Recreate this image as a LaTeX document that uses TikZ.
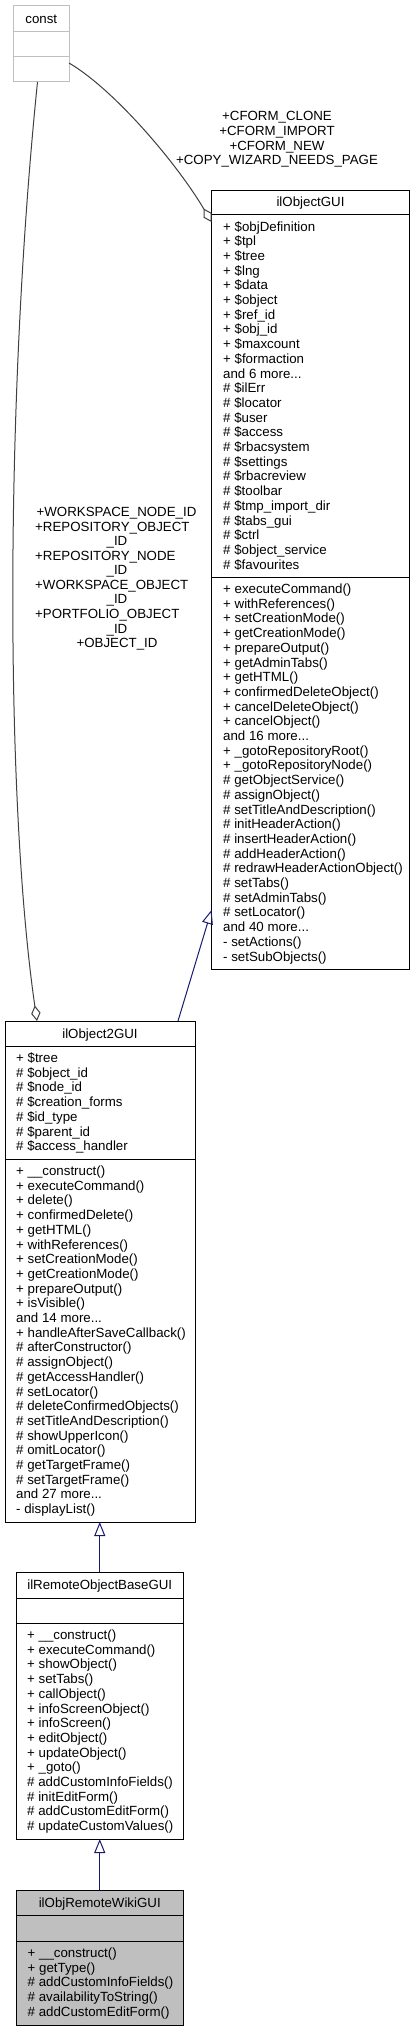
\documentclass[tikz,border=0pt]{standalone}
\usepackage{fontspec}
\setmainfont{Liberation Sans}
\usetikzlibrary{arrows.meta,calc}
\definecolor{edgeblue}{RGB}{25,25,112}
\definecolor{constgray}{RGB}{191,191,191}
\definecolor{darkedge}{RGB}{64,64,64}
\newcommand\threedots{.\kern0pt.\kern0pt.}
\newcommand\classrows[4]{%
  \foreach \txt [count=\k from 0] in {#4} {
    \node[rowtxt, anchor=base west] (#1-\k) at ({#2},{#3+4.5+\k*14.7}) {\txt};
  }%
}
\begin{document}
\begin{tikzpicture}[x=1pt,y=-1pt,
  classbox/.style={draw=black, line width=1pt, fill=white, inner sep=0pt, outer sep=0pt, anchor=north west},
  sepline/.style={draw=black, line width=1pt},
  rowtxt/.style={font=\fontsize{13.3}{15}\selectfont, inner sep=0pt},
  inherit/.style={draw=edgeblue, line width=1pt, -{Triangle[open, length=14pt, width=11pt]}},
  aggr/.style={draw=darkedge, line width=1pt, -{Diamond[open, length=15.6pt, width=9.4pt]}}]
\fill[white] (0,0) rectangle (415,2031);
\useasboundingbox (0,0) rectangle (415,2031);

% const
\node[classbox, draw=constgray, minimum width=55.5pt, minimum height=76pt] (const) at (13.5,6) {};
\draw[sepline, draw=constgray] ($(const.north west)+(0,25.5)$) -- ($(const.north east)+(0,25.5)$);
\draw[sepline, draw=constgray] ($(const.north west)+(0,51)$) -- ($(const.north east)+(0,51)$);
\node[rowtxt, anchor=base] (const-title) at (41.25,23.3) {const};

% ilObjectGUI
\node[classbox, minimum width=198pt, minimum height=779pt] (objgui) at (211.5,190) {};
\draw[sepline] ($(objgui.north west)+(0,24.5)$) -- ($(objgui.north east)+(0,24.5)$);
\draw[sepline] ($(objgui.north west)+(0,387)$) -- ($(objgui.north east)+(0,387)$);
\node[rowtxt, anchor=base] (objgui-title) at (310.5,206.5) {ilObjectGUI};
\classrows{objgui-a}{223}{226.5}{+ \$objDefinition,+ \$tpl,+ \$tree,+ \$lng,+ \$data,+ \$object,+ \$ref\_id,+ \$obj\_id,+ \$maxcount,+ \$formaction,{and 6 more\threedots},\# \$ilErr,\# \$locator,\# \$user,\# \$access,\# \$rbacsystem,\# \$settings,\# \$rbacreview,\# \$toolbar,\# \$tmp\_import\_dir,\# \$tabs\_gui,\# \$ctrl,\# \$object\_service,\# \$favourites}
\classrows{objgui-m}{223}{589}{+ executeCommand(),+ withReferences(),+ setCreationMode(),+ getCreationMode(),+ prepareOutput(),+ getAdminTabs(),+ getHTML(),+ confirmedDeleteObject(),+ cancelDeleteObject(),+ cancelObject(),{and 16 more\threedots},+ \_gotoRepositoryRoot(),+ \_gotoRepositoryNode(),\# getObjectService(),\# assignObject(),\# setTitleAndDescription(),\# initHeaderAction(),\# insertHeaderAction(),\# addHeaderAction(),\# redrawHeaderActionObject(),\# setTabs(),\# setAdminTabs(),\# setLocator(),{and 40 more\threedots},- setActions(),- setSubObjects()}

% ilObject2GUI
\node[classbox, minimum width=190pt, minimum height=501pt] (obj2) at (5,1021) {};
\draw[sepline] ($(obj2.north west)+(0,25)$) -- ($(obj2.north east)+(0,25)$);
\draw[sepline] ($(obj2.north west)+(0,138)$) -- ($(obj2.north east)+(0,138)$);
\node[rowtxt, anchor=base] (obj2-title) at (100,1038) {ilObject2GUI};
\classrows{obj2-a}{16}{1058}{+ \$tree,\# \$object\_id,\# \$node\_id,\# \$creation\_forms,\# \$id\_type,\# \$parent\_id,\# \$access\_handler}
\classrows{obj2-m}{16}{1171}{+ \_\_construct(),+ executeCommand(),+ delete(),+ confirmedDelete(),+ getHTML(),+ withReferences(),+ setCreationMode(),+ getCreationMode(),+ prepareOutput(),+ isVisible(),{and 14 more\threedots},+ handleAfterSaveCallback(),\# afterConstructor(),\# assignObject(),\# getAccessHandler(),\# setLocator(),\# deleteConfirmedObjects(),\# setTitleAndDescription(),\# showUpperIcon(),\# omitLocator(),\# getTargetFrame(),\# setTargetFrame(),{and 27 more\threedots},- displayList()}

% ilRemoteObjectBaseGUI
\node[classbox, minimum width=166.5pt, minimum height=267pt] (remote) at (16.5,1572) {};
\draw[sepline] ($(remote.north west)+(0,26)$) -- ($(remote.north east)+(0,26)$);
\draw[sepline] ($(remote.north west)+(0,51)$) -- ($(remote.north east)+(0,51)$);
\node[rowtxt, anchor=base] (remote-title) at (99.75,1589.5) {ilRemoteObjectBaseGUI};
\classrows{remote-m}{27}{1635}{+ \_\_construct(),+ executeCommand(),+ showObject(),+ setTabs(),+ callObject(),+ infoScreenObject(),+ infoScreen(),+ editObject(),+ updateObject(),+ \_goto(),\# addCustomInfoFields(),\# initEditForm(),\# addCustomEditForm(),\# updateCustomValues()}

% ilObjRemoteWikiGUI
\node[classbox, fill=constgray, minimum width=166.5pt, minimum height=135pt] (wiki) at (16.5,1890) {};
\draw[sepline] ($(wiki.north west)+(0,25)$) -- ($(wiki.north east)+(0,25)$);
\draw[sepline] ($(wiki.north west)+(0,51)$) -- ($(wiki.north east)+(0,51)$);
\node[rowtxt, anchor=base] (wiki-title) at (99.75,1907) {ilObjRemoteWikiGUI};
\classrows{wiki-m}{27.5}{1953}{+ \_\_construct(),+ getType(),\# addCustomInfoFields(),\# availabilityToString(),\# addCustomEditForm()}

% connectors
\draw[aggr] ($(const.north east)+(0,57)$) .. controls (115,90) and (178,165) .. ($(objgui.north west)+(0,32)$);
\draw[aggr] ($(const.south west)+(24,0)$) .. controls (5,400) and (5,800) .. ($(obj2.north west)+(32,0)$);
\draw[inherit] ($(obj2.north west)+(173,0)$) -- ($(objgui.north west)+(0,720)$);
\draw[inherit] (remote.north) -- (remote.north |- obj2.south);
\draw[inherit] (wiki.north) -- (wiki.north |- remote.south);

% labels
\node[rowtxt, anchor=base] (lt0) at (277,121) {+CFORM\_CLONE};
\node[rowtxt, anchor=base] (lt1) at (277,135.5) {+CFORM\_IMPORT};
\node[rowtxt, anchor=base] (lt2) at (277,150) {+CFORM\_NEW};
\node[rowtxt, anchor=base] (lt3) at (277,164.5) {+COPY\_WIZARD\_NEEDS\_PAGE};

\node[rowtxt, anchor=base] (ll0) at (116.5,516.5) {+WORKSPACE\_NODE\_ID};
\node[rowtxt, anchor=base west] (ll1) at (35,531.1) {+REPOSITORY\_OBJECT};
\node[rowtxt, anchor=base] (ll2) at (117,545.6) {\_ID};
\node[rowtxt, anchor=base west] (ll3) at (35,560.2) {+REPOSITORY\_NODE};
\node[rowtxt, anchor=base] (ll4) at (117,574.7) {\_ID};
\node[rowtxt, anchor=base west] (ll5) at (35,589.3) {+WORKSPACE\_OBJECT};
\node[rowtxt, anchor=base] (ll6) at (117,603.9) {\_ID};
\node[rowtxt, anchor=base west] (ll7) at (35,618.4) {+PORTFOLIO\_OBJECT};
\node[rowtxt, anchor=base] (ll8) at (117,633) {\_ID};
\node[rowtxt, anchor=base] (ll9) at (117,647.5) {+OBJECT\_ID};
\end{tikzpicture}
\end{document}
